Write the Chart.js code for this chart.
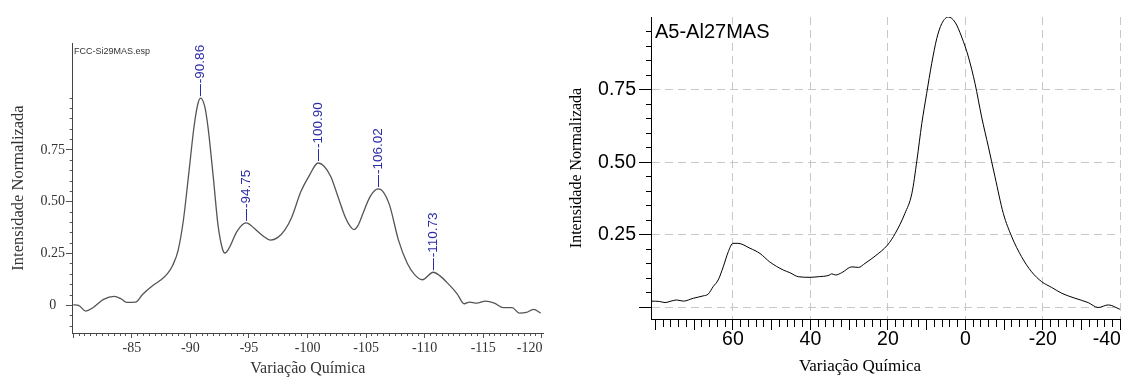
<!DOCTYPE html>
<html>
<head>
<meta charset="utf-8">
<title>Si29 / Al27 MAS</title>
<script src="https://cdn.jsdelivr.net/npm/chart.js@4.4.0/dist/chart.umd.min.js"></script>
<style>
  body { margin: 0; background: #fff; }
  #wrap { position: relative; width: 1123px; height: 380px; }
  .box { position: absolute; top: 0; height: 380px; }
  #si-box { left: 0; width: 560px; }
  #al-box { left: 560px; width: 563px; }
</style>
</head>
<body>
<div id="wrap">
  <div class="box" id="si-box"><canvas id="siChart" width="560" height="380"></canvas></div>
  <div class="box" id="al-box"><canvas id="alChart" width="563" height="380"></canvas></div>
</div>
<script>
'use strict';

// data - left spectrum (Si29 MAS)

let siShift = [-80.0, -80.45, -81.06, -81.67, -82.58, -83.49, -84.1, -84.55, -85.31, -85.91,
  -86.82, -87.43, -88.04, -88.49, -88.95, -89.4, -89.86, -90.31, -90.62, -90.86,
  -91.22, -91.5, -91.95, -92.35, -92.75, -92.95, -93.35, -93.95, -94.75, -95.02,
  -95.47, -96.23, -96.84, -97.44, -98.05, -98.66, -99.42, -100.17, -100.9, -101.39,
  -101.99, -102.6, -103.21, -103.66, -103.95, -104.3, -104.73, -105.33, -106.02, -106.39,
  -107.0, -107.76, -108.52, -109.12, -109.8, -110.73, -111.25, -112.0, -112.77, -113.37,
  -113.83, -114.43, -115.19, -115.95, -116.71, -117.47, -118.07, -118.68, -119.29, -119.9];
let siIntensity = [0.003, 0.0, -0.027, -0.011, 0.029, 0.044, 0.031, 0.015, 0.016, 0.053,
  0.097, 0.121, 0.153, 0.194, 0.266, 0.411, 0.637, 0.863, 0.968, 1.0,
  0.96, 0.86, 0.62, 0.39, 0.27, 0.253, 0.282, 0.355, 0.398, 0.392,
  0.371, 0.334, 0.315, 0.327, 0.363, 0.427, 0.548, 0.629, 0.687, 0.673,
  0.621, 0.524, 0.427, 0.38, 0.366, 0.385, 0.444, 0.524, 0.562, 0.553,
  0.484, 0.315, 0.202, 0.15, 0.124, 0.16, 0.145, 0.105, 0.056, 0.008,
  0.016, 0.011, 0.021, 0.011, -0.011, -0.011, -0.037, -0.034, -0.019, -0.037];
let siPeaks = [-90.86, -94.75, -100.90, -106.02, -110.73];
let siXLabels = [-85, -90, -95, -100, -105, -110, -115, -120];
let siYLabels = [0, 0.25, 0.5, 0.75];

// data - right spectrum (Al27 MAS)

let alShift = [81.0, 79.0, 77.5, 76.0, 74.5, 72.8, 70.2, 67.7, 66.4, 65.1,
  63.8, 62.5, 61.2, 60.0, 58.7, 55.6, 53.0, 50.5, 47.0, 45.3,
  43.1, 40.1, 38.0, 35.2, 34.5, 33.5, 31.9, 29.3, 27.6, 25.9,
  23.3, 20.1, 18.1, 15.6, 13.8, 12.5, 11.25, 10.0, 8.7, 7.4,
  6.1, 4.4, 2.65, 0.94, -0.8, -2.5, -4.2, -5.95, -7.65, -9.8,
  -12.0, -14.5, -17.1, -19.7, -22.3, -24.9, -28.3, -31.7, -34.3, -36.9, -39.9];
let alIntensity = [0.022, 0.021, 0.017, 0.022, 0.026, 0.022, 0.032, 0.040, 0.046, 0.072,
  0.095, 0.140, 0.192, 0.221, 0.221, 0.204, 0.186, 0.157, 0.129, 0.120,
  0.106, 0.104, 0.106, 0.111, 0.116, 0.112, 0.120, 0.140, 0.138, 0.152,
  0.177, 0.215, 0.255, 0.324, 0.393, 0.507, 0.633, 0.736, 0.839, 0.925,
  0.977, 1.0, 0.982, 0.931, 0.862, 0.771, 0.656, 0.553, 0.450, 0.324,
  0.243, 0.175, 0.123, 0.089, 0.069, 0.049, 0.032, 0.017, 0.0, 0.009, -0.006];
let alXLabels = [60, 40, 20, 0, -20, -40];
let alYLabels = [0.25, 0.5, 0.75];
let alYGrid = [0, 0.25, 0.5, 0.75];

let siFileName = 'FCC-Si29MAS.esp';
let alSampleName = 'A5-Al27MAS';
let xTitle = 'Variação Química';
let yTitle = 'Intensidade Normalizada';

// helpers

const serif = "'Liberation Serif', 'Times New Roman', serif";
const sans = "'Liberation Sans', Arial, sans-serif";
const clear = 'rgba(0,0,0,0)';

function near(list, v) {
  return list.some(function (t) { return Math.abs(t - v) < 1e-6; });
}

// last label sits at the plot edge, so pad it to push the text left
function edgeLabel(text, pad) {
  return text + '\u00a0'.repeat(pad);
}

function toPoints(xs, ys) {
  return xs.map(function (x, i) { return {x: x, y: ys[i]}; });
}

// linear lookup of the curve height at a given shift
function valueAt(xs, ys, v) {
  for (let i = 0; i < xs.length - 1; i++) {
    let a = xs[i], b = xs[i + 1];
    if ((v <= a && v >= b) || (v >= a && v <= b)) {
      let t = (v - a) / (b - a);
      return ys[i] + t * (ys[i + 1] - ys[i]);
    }
  }
  return 0;
}

// fixed axis sizes so the plot areas land where the original has them
function fixWidth(w) {
  return function (scale) { scale.width = w; scale.paddingTop = 0; scale.paddingBottom = 0; };
}
function fixHeight(h) {
  return function (scale) { scale.height = h; scale.paddingLeft = 0; scale.paddingRight = 0; };
}

// plugins

const captions = {
  id: 'captions',
  afterDraw(chart, args, opts) {
    let ctx = chart.ctx;
    (opts.items || []).forEach(function (it) {
      ctx.save();
      ctx.font = it.font;
      ctx.fillStyle = it.color;
      ctx.textAlign = it.align || 'left';
      ctx.textBaseline = it.baseline || 'alphabetic';
      ctx.fillText(it.text, it.x, it.y);
      ctx.restore();
    });
  }
};

const peakMarks = {
  id: 'peakMarks',
  afterDatasetsDraw(chart) {
    let ctx = chart.ctx;
    let x = chart.scales.x;
    let y = chart.scales.y;
    ctx.save();
    ctx.strokeStyle = '#2b2ba6';
    ctx.fillStyle = '#2b2ba6';
    ctx.lineWidth = 1;
    ctx.font = '13.5px ' + sans;
    ctx.textAlign = 'left';
    ctx.textBaseline = 'middle';
    siPeaks.forEach(function (p) {
      let px = Math.round(x.getPixelForValue(p)) + 0.5;
      let py = y.getPixelForValue(valueAt(siShift, siIntensity, p));
      ctx.beginPath();
      ctx.moveTo(px, py - 2);
      ctx.lineTo(px, py - 14);
      ctx.stroke();
      ctx.save();
      ctx.translate(px, py - 15);
      ctx.rotate(-Math.PI / 2);
      ctx.fillText(p.toFixed(2), 0, 0);
      ctx.restore();
    });
    ctx.restore();
  }
};

// left chart

const siMin = -120.1, siMax = -79.95, siYMin = -0.133, siYMax = 1.266;

let siChart = new Chart(document.getElementById('siChart'), {
  type: 'line',
  data: {
    datasets: [{
      data: toPoints(siShift, siIntensity),
      xAxisID: 'x',
      yAxisID: 'y',
      borderColor: '#555',
      borderWidth: 1.3,
      pointRadius: 0,
      cubicInterpolationMode: 'monotone',
      fill: false
    }]
  },
  options: {
    responsive: false,
    animation: false,
    layout: { padding: { left: 0, top: 43, right: 17, bottom: 0 } },
    plugins: {
      legend: { display: false },
      tooltip: { enabled: false },
      captions: {
        items: [{ text: siFileName, x: 74, y: 52, font: '9px ' + sans, color: '#333', baseline: 'middle' }]
      }
    },
    scales: {
      x: {
        type: 'linear', axis: 'x', position: 'bottom', reverse: true,
        min: siMin, max: siMax,
        afterFit: fixHeight(47),
        ticks: {
          stepSize: 0.5, includeBounds: false, autoSkip: false, maxRotation: 0, minRotation: 0,
          padding: 4.4, color: '#333', font: { family: serif, size: 14 },
          callback: function (v) {
            if (!near(siXLabels, v)) return '';
            let t = String(Math.round(v));
            return near([siXLabels[siXLabels.length - 1]], v) ? edgeLabel(t, 7) : t;
          }
        },
        grid: { drawOnChartArea: false, tickLength: 3, tickColor: '#555' },
        border: { color: '#444', width: 1 },
        title: { display: true, text: xTitle, color: '#333', font: { family: serif, size: 16 }, padding: { top: 0, bottom: 2 } }
      },
      xMajor: {
        type: 'linear', axis: 'x', position: { y: siYMin }, reverse: true,
        min: siMin, max: siMax,
        ticks: { stepSize: 5, includeBounds: false, autoSkip: false, display: false },
        grid: { drawOnChartArea: false, tickLength: 5, tickColor: '#555' },
        border: { display: false }
      },
      y: {
        type: 'linear', axis: 'y', position: 'left',
        min: siYMin, max: siYMax,
        afterFit: fixWidth(72.7),
        ticks: {
          stepSize: 0.05, includeBounds: false, autoSkip: false, crossAlign: 'center',
          padding: 4.6, color: '#333', font: { family: serif, size: 14 },
          callback: function (v) {
            if (!near(siYLabels, v)) return '';
            return Math.abs(v) < 1e-6 ? '0' : v.toFixed(2);
          }
        },
        grid: {
          drawOnChartArea: false, tickLength: 3,
          tickColor: function (c) { return c.tick && c.tick.value > -0.101 && c.tick.value < 1.001 ? '#555' : clear; }
        },
        border: { color: '#444', width: 1 },
        title: { display: true, text: yTitle, color: '#333', font: { family: serif, size: 16.5 }, padding: { top: 9, bottom: 0 } }
      },
      yMajor: {
        type: 'linear', axis: 'y', position: { x: siMax },
        min: siYMin, max: siYMax,
        ticks: { stepSize: 0.25, includeBounds: false, autoSkip: false, display: false },
        grid: {
          drawOnChartArea: false, tickLength: 7,
          tickColor: function (c) { return c.tick && near(siYLabels, c.tick.value) ? '#555' : clear; }
        },
        border: { display: false }
      }
    }
  },
  plugins: [captions, peakMarks]
});

// right chart

const alMin = -40.05, alMax = 81.15, alYMin = -0.0395, alYMax = 1.0;

let alChart = new Chart(document.getElementById('alChart'), {
  type: 'line',
  data: {
    datasets: [{
      data: toPoints(alShift, alIntensity),
      xAxisID: 'x',
      yAxisID: 'y',
      borderColor: '#000',
      borderWidth: 1,
      pointRadius: 0,
      cubicInterpolationMode: 'monotone',
      fill: false
    }]
  },
  options: {
    responsive: false,
    animation: false,
    layout: { padding: { left: 0, top: 17, right: 2.5, bottom: 0 } },
    plugins: {
      legend: { display: false },
      tooltip: { enabled: false },
      captions: {
        items: [
          { text: alSampleName, x: 95, y: 38, font: '20px ' + sans, color: '#000' },
          { text: xTitle, x: 300, y: 367, font: '17px ' + serif, color: '#000', align: 'center', baseline: 'middle' }
        ]
      }
    },
    scales: {
      x: {
        type: 'linear', axis: 'x', position: 'bottom', reverse: true,
        min: alMin, max: alMax,
        afterFit: fixHeight(61),
        ticks: {
          stepSize: 2, includeBounds: false, autoSkip: false, maxRotation: 0, minRotation: 0,
          padding: 1, color: '#000', font: { family: sans, size: 19.5 },
          callback: function (v) {
            if (!near(alXLabels, v)) return '';
            let t = String(Math.round(v));
            return near([alXLabels[alXLabels.length - 1]], v) ? edgeLabel(t, 5) : t;
          }
        },
        grid: {
          drawOnChartArea: true, tickLength: 8, tickColor: '#000', lineWidth: 1,
          color: function (c) { return c.tick && near(alXLabels, c.tick.value) ? '#c8c8c8' : clear; }
        },
        border: { color: '#000', width: 1, dash: [8, 5] },
        title: { display: false }
      },
      xMajor: {
        type: 'linear', axis: 'x', position: { y: alYMin }, reverse: true,
        min: alMin, max: alMax,
        ticks: { stepSize: 10, includeBounds: false, autoSkip: false, display: false },
        grid: { drawOnChartArea: false, tickLength: 11, tickColor: '#000' },
        border: { display: false }
      },
      y: {
        type: 'linear', axis: 'y', position: 'left',
        min: alYMin, max: alYMax,
        afterFit: fixWidth(91),
        ticks: {
          stepSize: 0.05, includeBounds: false, autoSkip: false,
          padding: 10, color: '#000', font: { family: sans, size: 19.5 },
          callback: function (v) { return near(alYLabels, v) ? v.toFixed(2) : ''; }
        },
        grid: {
          drawOnChartArea: true, tickLength: 5, lineWidth: 1,
          color: function (c) { return c.tick && near(alYGrid, c.tick.value) ? '#c8c8c8' : clear; },
          tickColor: function (c) { return c.tick && c.tick.value < 0.97 ? '#000' : clear; }
        },
        border: { color: '#000', width: 1, dash: [8, 5] },
        title: { display: true, text: yTitle, color: '#000', font: { family: serif, size: 16 }, padding: { top: 7, bottom: 0 } }
      },
      yMajor: {
        type: 'linear', axis: 'y', position: { x: alMax },
        min: alYMin, max: alYMax,
        ticks: { stepSize: 0.25, includeBounds: false, autoSkip: false, display: false },
        grid: {
          drawOnChartArea: false, tickLength: 12,
          tickColor: function (c) { return c.tick && c.tick.value < 0.97 ? '#000' : clear; }
        },
        border: { display: false }
      }
    }
  },
  plugins: [captions]
});
</script>
</body>
</html>
